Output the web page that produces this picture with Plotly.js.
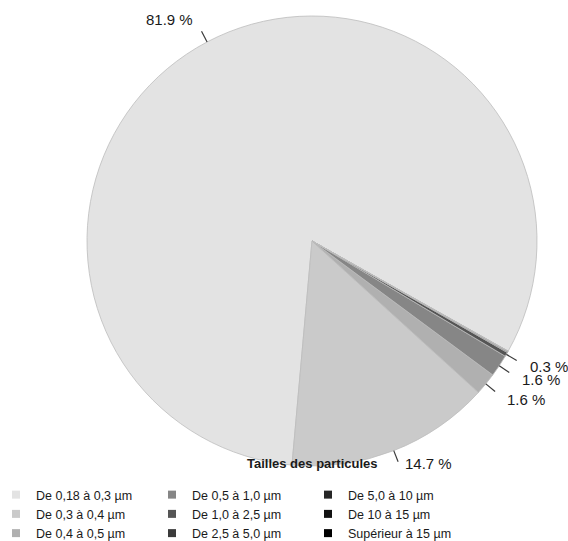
<!DOCTYPE html>
<html>
<head>
<meta charset="utf-8">
<script src="https://cdn.plot.ly/plotly-3.0.1.min.js"></script>
<style>html,body{margin:0;padding:0;background:#fff;}#chart{width:568px;height:541px;}</style>
</head>
<body>
<div id="chart"></div>
<script>
// ---- data ----
const categories = ['De 0,18 à 0,3 µm', 'De 0,3 à 0,4 µm', 'De 0,4 à 0,5 µm',
                    'De 0,5 à 1,0 µm', 'De 1,0 à 2,5 µm', 'De 2,5 à 5,0 µm',
                    'De 5,0 à 10 µm', 'De 10 à 15 µm', 'Supérieur à 15 µm'];
const shares = [81.9, 14.7, 1.6, 1.6, 0.3, 0.06, 0.03, 0.01, 0.01];
const legendTitle = 'Tailles des particules';

// ---- styles ----
const sliceColors = ['#e3e3e3', '#cacaca', '#b0b0b0', '#868686', '#555555',
                     '#3b3b3b', '#262626', '#121212', '#000000'];
const W = 568, H = 541;
const FONT = 'Liberation Sans, Arial, Helvetica, sans-serif';
const domain = {x: [87 / W, 537 / W], y: [75 / H, 525 / H]};
const rotation = -174.9;   // plotly: first slice occupies [rotation, rotation + its angle] clockwise
const labelMin = 0.25;

// pie geometry derived from the domain (margins are 0)
const cx = (domain.x[0] + domain.x[1]) / 2 * W;
const cy = H - (domain.y[0] + domain.y[1]) / 2 * H;
const R = Math.min((domain.x[1] - domain.x[0]) * W, (domain.y[1] - domain.y[0]) * H) / 2;
const toPaper = (px, py) => [px / W, 1 - py / H];

const total = shares.reduce((a, b) => a + b, 0);
const startAngle = rotation + shares[0] / total * 360; // counterclockwise sweep origin
const annotations = [];
const shapes = [];
let cum = 0;
shares.forEach((v, i) => {
  const mid = (startAngle - (cum + v / 2) / total * 360) * Math.PI / 180;
  cum += v;
  if (v < labelMin) return;
  const s = Math.sin(mid), c = Math.cos(mid);
  const p0 = toPaper(cx + R * s, cy - R * c);
  const p1 = toPaper(cx + (R + 12) * s, cy - (R + 12) * c);
  shapes.push({type: 'line', xref: 'paper', yref: 'paper',
               x0: p0[0], y0: p0[1], x1: p1[0], y1: p1[1],
               line: {color: '#3a3a3a', width: 1.2}});
  const pt = toPaper(cx + (R + 25) * s, cy - (R + 25) * c);
  annotations.push({xref: 'paper', yref: 'paper', x: pt[0], y: pt[1],
                    text: v.toFixed(1) + ' %', showarrow: false,
                    xanchor: s >= 0 ? 'left' : 'right',
                    yanchor: c < -0.8 ? 'bottom' : 'middle',
                    font: {family: FONT, size: 15, color: '#1a1a1a'}});
});

annotations.push({xref: 'paper', yref: 'paper', x: cx / W, y: 1 - 463 / H,
                  text: '<b>' + legendTitle + '</b>', showarrow: false,
                  xanchor: 'center', yanchor: 'middle',
                  font: {family: FONT, size: 13, color: '#1a1a1a'}});

const traces = [{
  type: 'pie', labels: categories, values: shares, sort: false,
  direction: 'counterclockwise', rotation: rotation, textinfo: 'none',
  marker: {colors: sliceColors, line: {color: '#bdbdbd', width: 0.8}},
  domain: domain, showlegend: false, hoverinfo: 'label+value'
}];

const legendIds = ['legend', 'legend2', 'legend3'];
categories.forEach((name, i) => {
  traces.push({type: 'scatter', mode: 'markers', x: [null], y: [null], name: name,
               legend: legendIds[Math.floor(i / 3)], showlegend: true, hoverinfo: 'skip',
               marker: {symbol: 'square', size: 8, color: sliceColors[i]}});
});

const legendBase = {xanchor: 'left', yanchor: 'top', y: 1 - 480 / H,
                    orientation: 'v', bgcolor: 'rgba(0,0,0,0)', borderwidth: 0,
                    tracegroupgap: 0, itemclick: false, itemdoubleclick: false,
                    font: {family: FONT, size: 12.5, color: '#1a1a1a'}};

const layout = {
  width: W, height: H,
  margin: {l: 0, r: 0, t: 0, b: 0, autoexpand: false},
  paper_bgcolor: '#ffffff', plot_bgcolor: '#ffffff',
  xaxis: {visible: false}, yaxis: {visible: false},
  legend: Object.assign({}, legendBase, {x: -4 / W}),
  legend2: Object.assign({}, legendBase, {x: 152 / W}),
  legend3: Object.assign({}, legendBase, {x: 308 / W}),
  annotations: annotations, shapes: shapes,
  font: {family: FONT}
};

Plotly.newPlot('chart', traces, layout, {displayModeBar: false, staticPlot: true});
</script>
</body>
</html>
